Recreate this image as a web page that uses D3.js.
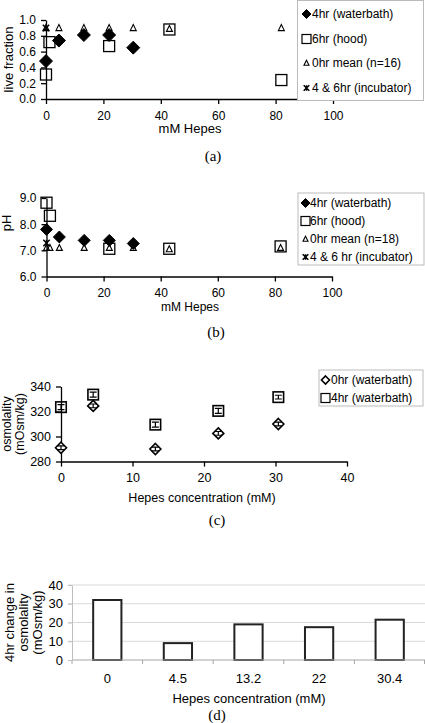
<!DOCTYPE html>
<html><head><meta charset="utf-8">
<script src="https://cdn.jsdelivr.net/npm/d3@7"></script>
<style>
html,body{margin:0;padding:0;background:#fff;}
svg text{font-family:Arial,"Liberation Sans",sans-serif;fill:#000;}
</style></head>
<body><svg id="c" width="425" height="723"></svg>
<script>
// ---------- DATA ----------
// Panel (a): live fraction vs mM Hepes
const a4hrX = [0, 4.5, 13.2, 22, 30.4];
const a4hrY = [0.48, 0.74, 0.81, 0.81, 0.65];
const a6hrX = [0, 1.2, 22, 43, 82];
const a6hrY = [0.31, 0.72, 0.67, 0.88, 0.24];
const a0hrX = [0, 4.5, 13.2, 22, 30.4, 43, 82];
const a0hrY = [0.9, 0.9, 0.9, 0.9, 0.9, 0.89, 0.9];
const aIncX = [0];
const aIncY = [0.9];
const aLegend = ["4hr (waterbath)", "6hr (hood)", "0hr mean (n=16)", "4 & 6hr (incubator)"];
const aYTicks = [0, 0.2, 0.4, 0.6, 0.8, 1.0];
const xTicksAB = [0, 20, 40, 60, 80, 100];

// Panel (b): pH vs mM Hepes
const b4hrX = [0, 4.5, 13.2, 22, 30.4];
const b4hrY = [7.8, 7.51, 7.38, 7.38, 7.26];
const b6hrX = [0, 1.2, 22, 43, 82];
const b6hrY = [8.82, 8.32, 7.06, 7.06, 7.15];
const b0hrX = [0, 1.2, 4.5, 13.2, 22, 30.4, 43, 82];
const b0hrY = [7.1, 7.1, 7.1, 7.1, 7.1, 7.1, 7.05, 7.1];
const bIncX = [0];
const bIncY = [7.28];
const bLegend = ["4hr (waterbath)", "6hr (hood)", "0hr mean (n=18)", "4 & 6 hr (incubator)"];
const bYTicks = [6, 7, 8, 9];

// Panel (c): osmolality vs Hepes concentration
const cX = [0, 4.5, 13.2, 22, 30.4];
const c0hr = [291, 324.5, 290, 302.5, 310];
const c0hrErr = [1.5, 1.5, 1.5, 1.5, 1.5];
const c4hr = [323.5, 333.5, 309.5, 320.5, 331.5];
const c4hrErr = [2, 2, 2, 2, 1.5];
const cLegend = ["0hr (waterbath)", "4hr (waterbath)"];
const cYTicks = [280, 300, 320, 340];
const cXTicks = [0, 10, 20, 30, 40];

// Panel (d): 4hr change in osmolality
const dCats = ["0", "4.5", "13.2", "22", "30.4"];
const dVals = [32, 9, 19, 17.5, 21.5];
const dYTicks = [0, 10, 20, 30, 40];

// ---------- DRAW ----------
const svg = d3.select("#c");

function diamond(g, x, y, r, filled) {
  g.append("path").attr("d", `M${x},${y-r}L${x+r},${y}L${x},${y+r}L${x-r},${y}Z`)
   .attr("fill", filled ? "#000" : "#fff").attr("stroke", "#000").attr("stroke-width", filled ? 1 : 1.6);
}
function square(g, x, y, s, sw) {
  g.append("rect").attr("x", x - s/2).attr("y", y - s/2).attr("width", s).attr("height", s)
   .attr("fill", "none").attr("stroke", "#000").attr("stroke-width", sw || 1.3);
}
function triangle(g, x, y, s) {
  g.append("path").attr("d", `M${x},${y-s*0.55}L${x+s/2},${y+s*0.45}L${x-s/2},${y+s*0.45}Z`)
   .attr("fill", "none").attr("stroke", "#000").attr("stroke-width", 1.1);
}
function star(g, x, y, r) {
  g.append("path").attr("d", `M${x-r},${y-r}L${x+r},${y+r}M${x+r},${y-r}L${x-r},${y+r}M${x},${y-r}L${x},${y+r}`)
   .attr("stroke", "#000").attr("stroke-width", 1.5).attr("fill", "none");
}

function styleAxis(g, size) {
  g.select(".domain").attr("stroke", "#000").attr("stroke-width", 1.3);
  g.selectAll(".tick line").attr("stroke", "#000").attr("stroke-width", 1.3);
  g.selectAll(".tick text").attr("font-size", size || 12).attr("font-family", "Arial, 'Liberation Sans', sans-serif").attr("fill", "#000");
}

// ===== Panel (a) =====
{
  const x = d3.scaleLinear().domain([0, 100]).range([46, 333]);
  const y = d3.scaleLinear().domain([0, 1]).range([99, 20]);
  const gx = svg.append("g").attr("transform", `translate(0,${y(0)})`)
    .call(d3.axisBottom(x).tickValues(xTicksAB).tickSize(5).tickSizeOuter(0).tickPadding(7).tickFormat(d3.format("d")));
  styleAxis(gx);
  const gy = svg.append("g").attr("transform", `translate(${x(0)},0)`)
    .call(d3.axisLeft(y).tickValues(aYTicks).tickSize(5).tickSizeOuter(0).tickPadding(5).tickFormat(d3.format(".1f")));
  styleAxis(gy);
  const m = svg.append("g");
  a6hrX.forEach((v, i) => square(m, x(v), y(a6hrY[i]), 11));
  a4hrX.forEach((v, i) => diamond(m, x(v), y(a4hrY[i]), 6.5, true));
  a0hrX.forEach((v, i) => triangle(m, x(v), y(a0hrY[i]), 6));
  aIncX.forEach((v, i) => star(m, x(v), y(aIncY[i]), 3.2));
  svg.append("text").attr("x", 190).attr("y", 133).attr("text-anchor", "middle").attr("font-size", 13).text("mM Hepes");
  svg.append("text").attr("transform", "translate(12.5,59.5) rotate(-90)").attr("text-anchor", "middle").attr("font-size", 13).text("live fraction");
  // legend
  const L = svg.append("g");
  L.append("rect").attr("x", 297.5).attr("y", 0.5).attr("width", 126).attr("height", 100).attr("fill", "#fff").attr("stroke", "#bbb");
  const ly = [14, 39, 63, 88];
  diamond(L, 306.5, ly[0], 4.5, true);
  square(L, 306.5, ly[1], 9, 1.2);
  triangle(L, 306.5, ly[2], 5);
  star(L, 306.5, ly[3], 2.8);
  aLegend.forEach((t, i) => L.append("text").attr("x", 312).attr("y", ly[i]).attr("dy", "0.35em").attr("font-size", 12).text(t));
  svg.append("text").attr("x", 213).attr("y", 156).attr("dy", "0.35em").attr("text-anchor", "middle")
    .attr("font-size", 15).style("font-family", "'Liberation Serif','Times New Roman',serif").text("(a)");
}

// ===== Panel (b) =====
{
  const x = d3.scaleLinear().domain([0, 100]).range([46.5, 332]);
  const y = d3.scaleLinear().domain([6, 9]).range([276.5, 198]);
  const gx = svg.append("g").attr("transform", `translate(0,${y(6)})`)
    .call(d3.axisBottom(x).tickValues(xTicksAB).tickSize(5).tickSizeOuter(0).tickPadding(7).tickFormat(d3.format("d")));
  styleAxis(gx);
  const gy = svg.append("g").attr("transform", `translate(${x(0)},0)`)
    .call(d3.axisLeft(y).tickValues(bYTicks).tickSize(5).tickSizeOuter(0).tickPadding(5).tickFormat(d3.format(".1f")));
  styleAxis(gy);
  const m = svg.append("g");
  b6hrX.forEach((v, i) => square(m, x(v), y(b6hrY[i]), 11));
  b4hrX.forEach((v, i) => diamond(m, x(v), y(b4hrY[i]), 6, true));
  b0hrX.forEach((v, i) => triangle(m, x(v), y(b0hrY[i]), 6));
  bIncX.forEach((v, i) => star(m, x(v), y(bIncY[i]), 3.2));
  svg.append("text").attr("x", 190).attr("y", 311).attr("text-anchor", "middle").attr("font-size", 12).text("mM Hepes");
  svg.append("text").attr("transform", "translate(11,223) rotate(-90)").attr("text-anchor", "middle").attr("font-size", 13).text("pH");
  const L = svg.append("g");
  L.append("rect").attr("x", 298).attr("y", 193).attr("width", 126).attr("height", 72).attr("fill", "#fff").attr("stroke", "#bbb");
  const ly = [203, 221, 239, 257];
  diamond(L, 305.5, ly[0], 4.5, true);
  square(L, 305.5, ly[1], 9, 1.2);
  triangle(L, 305.5, ly[2], 5);
  star(L, 305.5, ly[3], 2.8);
  bLegend.forEach((t, i) => L.append("text").attr("x", 310).attr("y", ly[i]).attr("dy", "0.35em").attr("font-size", 12).text(t));
  svg.append("text").attr("x", 216).attr("y", 332).attr("dy", "0.35em").attr("text-anchor", "middle")
    .attr("font-size", 15).style("font-family", "'Liberation Serif','Times New Roman',serif").text("(b)");
}

// ===== Panel (c) =====
{
  const x = d3.scaleLinear().domain([0, 40]).range([61, 347]);
  const y = d3.scaleLinear().domain([280, 340]).range([461.5, 386.5]);
  const gx = svg.append("g").attr("transform", `translate(0,${y(280)})`)
    .call(d3.axisBottom(x).tickValues(cXTicks).tickSize(5).tickSizeOuter(0).tickPadding(7).tickFormat(d3.format("d")));
  styleAxis(gx, 12.5);
  const gy = svg.append("g").attr("transform", `translate(${x(0)},0)`)
    .call(d3.axisLeft(y).tickValues(cYTicks).tickSize(5).tickSizeOuter(0).tickPadding(5).tickFormat(d3.format("d")));
  styleAxis(gy, 12.5);
  const m = svg.append("g");
  function errbar(xv, yv, e) {
    const cx = x(xv);
    m.append("path").attr("d",
      `M${cx},${y(yv - e)}L${cx},${y(yv + e)}M${cx-3.5},${y(yv - e)}L${cx+3.5},${y(yv - e)}M${cx-3.5},${y(yv + e)}L${cx+3.5},${y(yv + e)}`)
      .attr("stroke", "#000").attr("stroke-width", 1.2).attr("fill", "none");
  }
  cX.forEach((v, i) => { diamond(m, x(v), y(c0hr[i]), 5.5, false); errbar(v, c0hr[i], c0hrErr[i]); });
  cX.forEach((v, i) => { square(m, x(v), y(c4hr[i]), 10.5, 1.6); errbar(v, c4hr[i], c4hrErr[i]); });
  svg.append("text").attr("x", 202).attr("y", 501.5).attr("text-anchor", "middle").attr("font-size", 12.5).text("Hepes concentration (mM)");
  svg.append("text").attr("transform", "translate(11,424) rotate(-90)").attr("text-anchor", "middle").attr("font-size", 12.5).text("osmolality");
  svg.append("text").attr("transform", "translate(23.5,424) rotate(-90)").attr("text-anchor", "middle").attr("font-size", 12.5).text("(mOsm/kg)");
  const L = svg.append("g");
  L.append("rect").attr("x", 319).attr("y", 370).attr("width", 104).attr("height", 36).attr("fill", "#fff").attr("stroke", "#bbb");
  const ly = [380, 398];
  diamond(L, 325.5, ly[0], 4, false);
  square(L, 325.5, ly[1], 9, 1.2);
  cLegend.forEach((t, i) => L.append("text").attr("x", 331).attr("y", ly[i]).attr("dy", "0.35em").attr("font-size", 12).text(t));
  svg.append("text").attr("x", 217).attr("y", 520).attr("dy", "0.35em").attr("text-anchor", "middle")
    .attr("font-size", 15).style("font-family", "'Liberation Serif','Times New Roman',serif").text("(c)");
}

// ===== Panel (d) =====
{
  const x = d3.scaleBand().domain(dCats).range([72, 425]).paddingInner(0.6).paddingOuter(0.3);
  const y = d3.scaleLinear().domain([0, 40]).range([660, 585]);
  const g = svg.append("g");
  g.selectAll("line.grid").data(dYTicks.filter(d => d > 0)).join("line")
    .attr("x1", 68).attr("x2", 425).attr("y1", d => y(d)).attr("y2", d => y(d))
    .attr("stroke", "#d9d9d9").attr("stroke-width", 1);
  const gy = svg.append("g").attr("transform", `translate(72,0)`)
    .call(d3.axisLeft(y).tickValues(dYTicks).tickSize(4).tickSizeOuter(0).tickPadding(5).tickFormat(d3.format("d")));
  gy.select(".domain").attr("stroke", "#bfbfbf");
  gy.selectAll(".tick line").attr("stroke", "#bfbfbf");
  gy.selectAll(".tick text").attr("font-size", 13).attr("fill", "#000");
  g.selectAll("rect.bar").data(dVals).join("rect")
    .attr("x", (d, i) => x(dCats[i])).attr("width", x.bandwidth())
    .attr("y", d => y(d)).attr("height", d => y(0) - y(d))
    .attr("fill", "#fff").attr("stroke", "#222").attr("stroke-width", 2);
  g.append("line").attr("x1", 72).attr("x2", 425).attr("y1", y(0)).attr("y2", y(0)).attr("stroke", "#a6a6a6").attr("stroke-width", 1.2);
  const step = x.step();
  const bounds = d3.range(dCats.length + 1).map(i => 72 + i * step);
  g.selectAll("line.bt").data(bounds).join("line")
    .attr("x1", d => Math.min(d, 424.5)).attr("x2", d => Math.min(d, 424.5)).attr("y1", y(0)).attr("y2", y(0) + 4)
    .attr("stroke", "#a6a6a6");
  g.selectAll("text.cat").data(dCats).join("text")
    .attr("x", d => x(d) + x.bandwidth() / 2).attr("y", 678).attr("dy", "0.35em")
    .attr("text-anchor", "middle").attr("font-size", 13).text(d => d);
  svg.append("text").attr("x", 249).attr("y", 702.5).attr("text-anchor", "middle").attr("font-size", 13).text("Hepes concentration (mM)");
  const yl = [["4hr change in", 13.5], ["osmolality", 27.5], ["(mOsm/kg)", 41.5]];
  yl.forEach(([t, xx]) => svg.append("text").attr("transform", `translate(${xx},622.5) rotate(-90)`)
    .attr("text-anchor", "middle").attr("font-size", 13).text(t));
  svg.append("text").attr("x", 217).attr("y", 715).attr("dy", "0.35em").attr("text-anchor", "middle")
    .attr("font-size", 15).style("font-family", "'Liberation Serif','Times New Roman',serif").text("(d)");
}
</script></body></html>
